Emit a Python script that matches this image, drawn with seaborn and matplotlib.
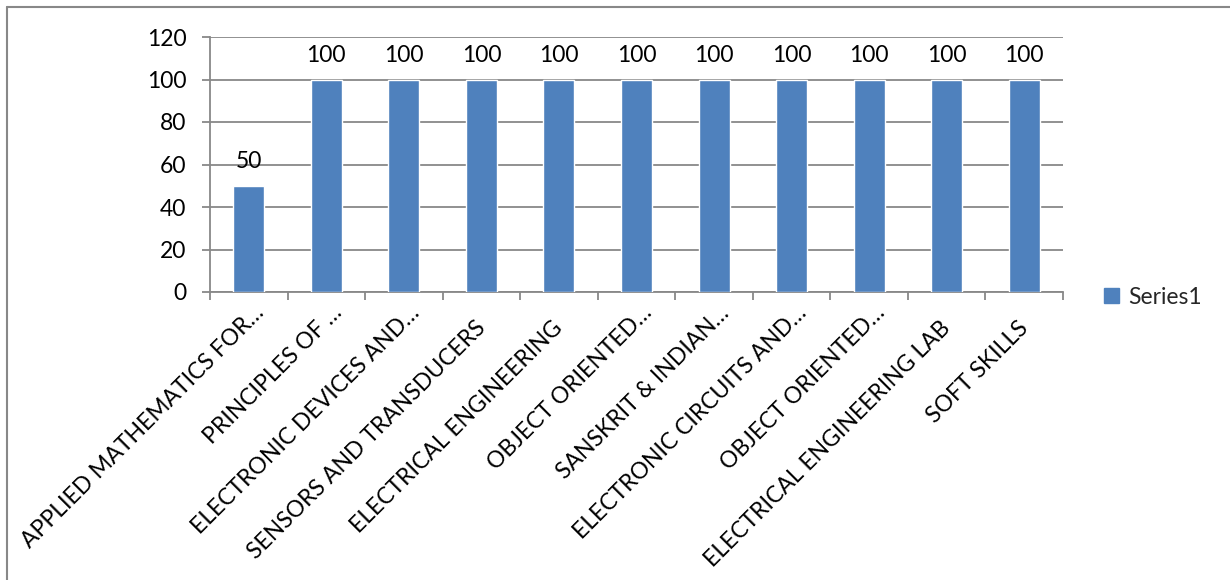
import matplotlib
matplotlib.use("Agg")
import matplotlib.pyplot as plt
from matplotlib.lines import Line2D
from matplotlib.patches import Patch
import seaborn as sns
import pandas as pd

# Course results
courses = [
    "APPLIED MATHEMATICS FOR…",
    "PRINCIPLES OF …",
    "ELECTRONIC DEVICES AND…",
    "SENSORS AND TRANSDUCERS",
    "ELECTRICAL ENGINEERING",
    "OBJECT ORIENTED…",
    "SANSKRIT & INDIAN…",
    "ELECTRONIC CIRCUITS AND…",
    "OBJECT ORIENTED…",
    "ELECTRICAL ENGINEERING LAB",
    "SOFT SKILLS",
]
scores = [50, 100, 100, 100, 100, 100, 100, 100, 100, 100, 100]
y_ticks = [0, 20, 40, 60, 80, 100, 120]
series_name = "Series1"

BAR = "#4F81BD"
GRID = "#888888"
FS = 16.5

sns.set_theme(style="white")
plt.rcParams["font.family"] = ["Lato", "DejaVu Sans"]

df = pd.DataFrame({"pos": range(len(courses)), "score": scores})

fig = plt.figure(figsize=(12.3, 5.8), dpi=100)
ax = fig.add_axes([210 / 1230, 1 - 292 / 580, (1063 - 210) / 1230, (292 - 37) / 580])

sns.barplot(data=df, x="pos", y="score", color=BAR, width=0.4,
            saturation=1, ax=ax, zorder=3)

ax.set_xlim(-0.5, len(courses) - 0.5)
ax.set_ylim(0, 120)
ax.set_yticks(y_ticks)
ax.set_yticklabels([str(v) for v in y_ticks], fontsize=FS, color="black")
ax.set_xlabel("")
ax.set_ylabel("")

# horizontal gridlines
ax.yaxis.grid(True, color=GRID, linewidth=1.3, zorder=0)
ax.set_axisbelow(True)

for side in ("top", "right"):
    ax.spines[side].set_visible(False)
for side in ("left", "bottom"):
    ax.spines[side].set_color(GRID)
    ax.spines[side].set_linewidth(1.3)

ax.tick_params(axis="y", left=True, length=6, width=1.3, color=GRID, pad=11)

# category ticks sit between the bars; names are drawn separately below
ax.set_xticks([i - 0.5 for i in range(len(courses) + 1)])
ax.set_xticklabels([])
ax.tick_params(axis="x", bottom=True, length=6, width=1.3, color=GRID, direction="out")

# rotated category names; shortened names run a little further along their slant
for i, name in enumerate(courses):
    if name.endswith("…"):
        off = (12, -16)
    else:
        off = (3.6, -27)
    ax.annotate(name, xy=(i, 0), xycoords=ax.get_xaxis_transform(),
                xytext=off, textcoords="offset points",
                rotation=45, rotation_mode="anchor", ha="right", va="baseline",
                fontsize=FS, color="black", annotation_clip=False)

# value labels above each bar
for container in ax.containers:
    ax.bar_label(container, labels=[str(v) for v in scores], padding=10,
                 fontsize=FS, color="black")

# legend to the right of the plot
handle = Patch(facecolor=BAR, edgecolor=BAR)
fig.legend([handle], [series_name], loc="center left",
           bbox_to_anchor=(1104 / 1230, 1 - 297 / 580), frameon=False,
           fontsize=FS, handlelength=0.65, handleheight=0.65, handletextpad=0.4,
           borderaxespad=0, borderpad=0)

# chart area border (left and top edges)
fig.add_artist(Line2D([7 / 1230, 7 / 1230], [0, 1 - 7 / 580], color=GRID,
                      linewidth=1.5, transform=fig.transFigure))
fig.add_artist(Line2D([7 / 1230, 1], [1 - 7 / 580, 1 - 7 / 580], color=GRID,
                      linewidth=1.5, transform=fig.transFigure))

fig.savefig("out.png", dpi=100, facecolor="white")
